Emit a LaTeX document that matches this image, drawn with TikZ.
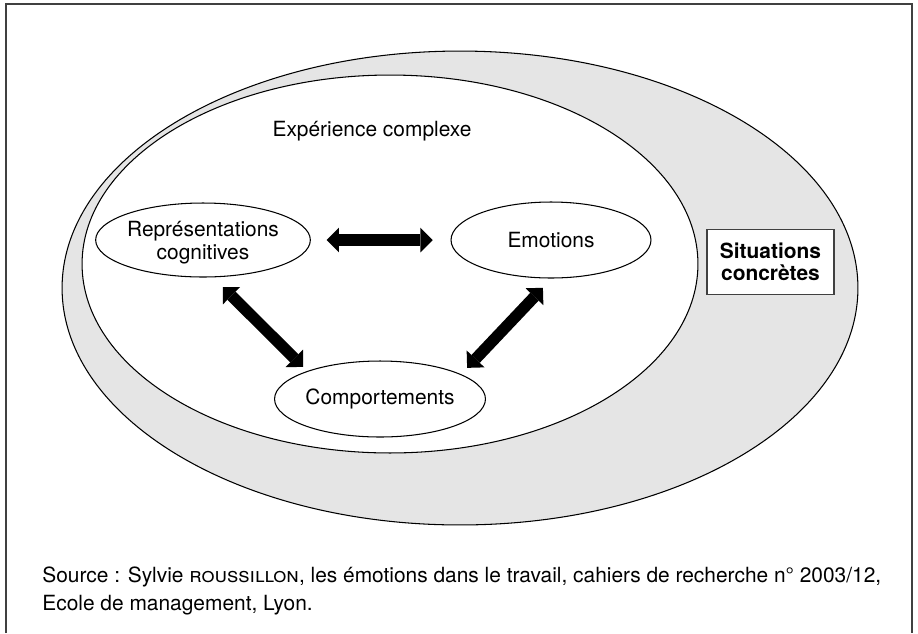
\documentclass[tikz,border=0pt]{standalone}
\usepackage{fontspec}
\setmainfont{TeX Gyre Heros}
\usetikzlibrary{shapes.geometric,arrows.meta}

\begin{document}
\begin{tikzpicture}[x=0.02cm, y=-0.02cm, line width=0.6pt,
  every node/.style={font=\fontsize{11.9}{12.5}\selectfont},
  bubble/.style={ellipse, draw, fill=white, inner sep=0pt, minimum width=4cm, minimum height=1.52cm, align=center},
  bigarrow/.style={line width=6.5pt, {Triangle[length=7pt, width=14pt, line width=0pt, sep=1pt]}-{Triangle[length=7pt, width=14pt, line width=0pt, sep=1pt]}}]
  \useasboundingbox (0,0) rectangle (918,633);
  \draw[black!75, line width=0.8pt] (6,633) -- (6,4) -- (912,4) -- (912,633);

  \draw[fill=black!10] (460,288) ellipse [x radius=7.96cm, y radius=4.74cm];
  \draw[fill=white] (390,264) ellipse [x radius=6.16cm, y radius=3.78cm];

  \node (exp) at (372,131) {Expérience complexe};
  \node[bubble, minimum height=1.48cm, text depth=0pt, font=\fontsize{11.9}{13.2}\selectfont] (repr) at (203,240) {Représentations\\cognitives};
  \node[bubble] (emo) at (551,240) {Emotions};
  \node[bubble] (comp) at (380,399) {Comportements};
  \node[draw=black!75, fill=white, line width=0.8pt, minimum width=2.54cm, minimum height=1.3cm, align=center,
    font=\bfseries\fontsize{11.9}{12.5}\selectfont] (sit) at (770.5,262) {Situations\\concrètes};

  \draw[bigarrow, shorten <=0.28cm, shorten >=0.32cm] (repr.east) -- (emo.west);
  \draw[bigarrow, shorten <=0.24cm, shorten >=0.08cm] (repr.-75) -- (comp.159);
  \draw[bigarrow, shorten <=0.14cm, shorten >=0.22cm] (comp.17) -- (emo.-89);

  \node[anchor=west, align=left, font=\fontsize{11.9}{15.5}\selectfont] (src) at (36,591)
    {Source : Sylvie \textsc{roussillon}, les émotions dans le travail, cahiers de recherche n° 2003/12,\\
     Ecole de management, Lyon.};
\end{tikzpicture}
\end{document}
